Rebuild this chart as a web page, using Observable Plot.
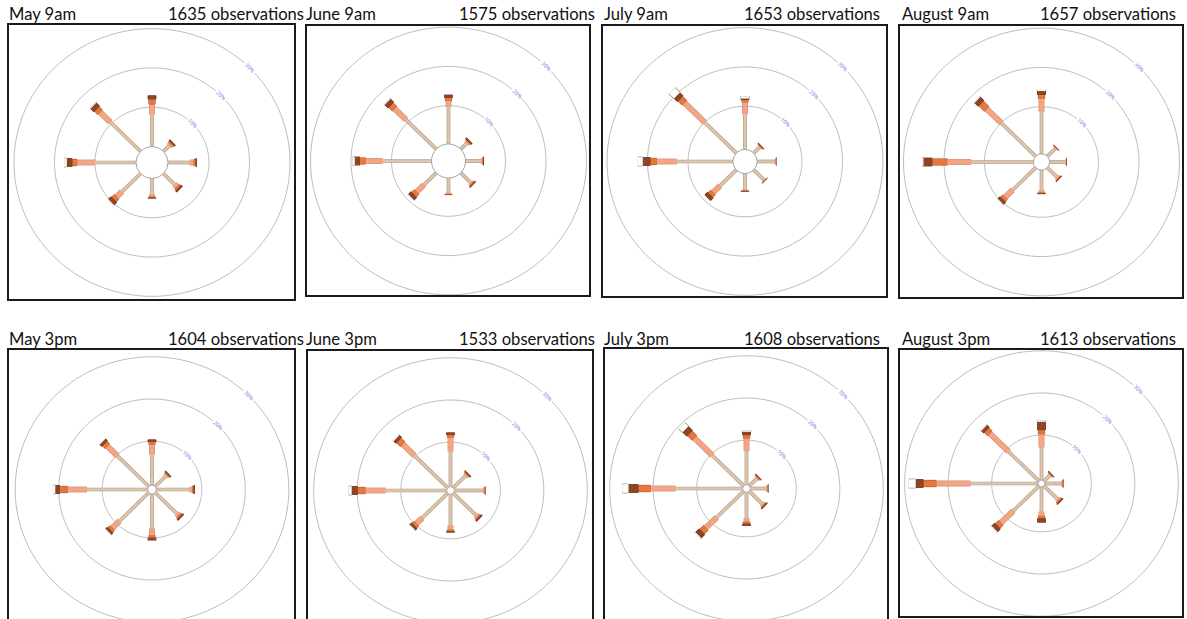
<!DOCTYPE html>
<html><head><meta charset="utf-8">
<script src="https://cdn.jsdelivr.net/npm/d3@7"></script>
<script src="https://cdn.jsdelivr.net/npm/@observablehq/plot@0.6"></script>
<style>
body{margin:0;background:#fff;font-family:Lato,"Open Sans",sans-serif;}
#root{position:relative;width:1187px;height:619px;overflow:hidden;background:#fff;}
.title{position:absolute;font-size:16.6px;color:#111;white-space:nowrap;line-height:1;}
.box{position:absolute;border:2px solid #1a1a1a;box-sizing:border-box;background:#fff;overflow:hidden;}
.box svg{display:block;}
</style></head><body><div id="root"></div>
<script>
// ---------- data ----------
const directions = ["N", "NE", "E", "SE", "S", "SW", "W", "NW"];
const directionAngles = [0, 45, 90, 135, 180, 225, 270, 315];
const speedClasses = ["1-10 km/h", "11-20 km/h", "21-30 km/h", "31-40 km/h", "above 40 km/h"];
const ringValues = [10, 20, 30];
const ringLabels = ["10%", "20%", "30%"];
const panelNames = ["May 9am", "June 9am", "July 9am", "August 9am", "May 3pm", "June 3pm", "July 3pm", "August 3pm"];
const observations = [1635, 1575, 1653, 1657, 1604, 1533, 1608, 1613];
const calm = [3.95, 4.2, 3.0, 2.0, 1.0, 0.9, 0.9, 0.8];

// percent of observations per direction (N..NW), split by speed class
const may9am = [[8.2,2.5,1.3,1.0,0],[1.8,0.6,0.4,0.4,0],[5.2,1.0,0.5,0.3,0],[3.8,0.8,0.5,0.5,0],[4.0,0.6,0.3,0.2,0],[6.4,1.8,1.0,1.0,0.1],[10.0,4.4,1.2,1.4,0.6],[10.5,3.5,1.2,1.2,0.2]];
const june9am = [[9.7,1.5,0.8,0.8,0],[2.2,0.4,0.3,0.4,0],[4.0,0.3,0.2,0.2,0],[3.6,0.4,0.2,0.3,0],[4.0,0.3,0.2,0.1,0],[4.5,2.5,1.0,1.0,0.1],[12.2,4.2,1.4,1.3,0.5],[10.8,3.9,1.3,1.2,0.2]];
const july9am = [[8.0,3.0,0.6,0.4,0.5],[1.0,0.2,0.2,0.2,0],[3.3,0.2,0.1,0.1,0],[2.5,0.2,0.1,0.1,0],[3.1,0.2,0.1,0.2,0],[4.7,2.3,1.0,1.0,0],[12.8,4.9,1.6,1.9,1.2],[10.0,7.0,1.5,1.2,1.7]];
const august9am = [[8.7,3.3,1.0,1.0,0.3],[0.7,0.2,0.2,0.1,0],[1.8,0.2,0.1,0.1,0],[1.4,0.3,0.2,0.2,0],[3.1,0.5,0.3,0.2,0],[6.0,2.6,0.8,0.8,0.1],[13.3,5.9,3.7,2.2,0.3],[10.0,5.0,2.0,1.3,0.2]];
const may3pm = [[6.9,2.3,0.6,0.6,0],[3.0,0.4,0.2,0.3,0],[7.2,0.6,0.3,0.3,0],[6.6,0.6,0.4,0.4,0],[7.8,1.6,0.6,0.6,0],[9.1,2.3,0.7,0.6,0.1],[13.5,4.4,1.8,1.1,0.5],[9.8,3.2,0.9,0.7,0.1]];
const june3pm = [[7.8,3.3,0.6,0.6,0],[3.4,0.4,0.2,0.3,0],[6.0,0.3,0.2,0.1,0],[6.8,0.5,0.3,0.4,0],[6.8,1.0,0.4,0.3,0],[7.7,1.9,0.7,0.6,0.1],[13.5,4.6,1.8,1.4,0.7],[10.3,3.7,1.3,0.8,0.2]];
const july3pm = [[7.4,3.0,0.8,0.8,0.3],[1.8,0.3,0.2,0.2,0],[3.0,0.3,0.2,0.1,0],[3.6,0.4,0.2,0.3,0],[5.6,0.8,0.5,0.5,0],[8.2,3.5,1.3,1.2,0.2],[14.9,5.7,2.8,2.3,1.4],[9.6,5.8,1.6,1.4,1.1]];
const august3pm = [[7.1,3.1,1.0,2.0,0.3],[1.2,0.2,0.2,0.2,0],[3.1,0.2,0.2,0.1,0],[3.7,0.4,0.3,0.3,0],[5.2,1.0,0.6,1.0,0],[7.7,4.0,1.1,1.0,0.2],[14.9,7.8,3.0,1.8,1.6],[9.2,6.1,1.1,0.8,0.2]];
const panelData = [may9am, june9am, july9am, august9am, may3pm, june3pm, july3pm, august3pm];

// ---------- styles / layout ----------
const classColors = ["#dcc6ae", "#f4a584", "#e5773f", "#8f4424", "#ffffff"];
const classOutline = ["#b39a84", "#cf9174", "#b85e34", "#6a3018", "#8a8a8a"];
const classWidths = [2.4, 4.6, 6, 7.5, 8.5];
const boxes = [[7,23,289,278],[305,24,286,273],[601,24,287,274],[898,24,286,275],
               [7,348,289,282],[306,349,288,282],[603,347,286,282],[898,348,286,270]];
const titleRows = [6, 331];
const nameLeft = [9, 306, 604, 902];
const obsRight = [304, 595, 880, 1176];
const hole = {"9am": 4.07, "3pm": 1.45};
const pxPerUnit = {"9am": 4.05, "3pm": 4.35};

const root = document.getElementById("root");
const toRad = d => d * Math.PI / 180;

panelNames.forEach((name, i) => {
  const row = i < 4 ? 0 : 1, col = i % 4;
  const t1 = document.createElement("div");
  t1.className = "title"; t1.textContent = name;
  t1.style.left = nameLeft[col] + "px"; t1.style.top = titleRows[row] + "px";
  root.appendChild(t1);
  const t2 = document.createElement("div");
  t2.className = "title"; t2.textContent = observations[i] + " observations";
  t2.style.right = (1187 - obsRight[col]) + "px"; t2.style.top = titleRows[row] + "px";
  root.appendChild(t2);

  const [bx, by, bw, bh] = boxes[i];
  const box = document.createElement("div");
  box.className = "box";
  Object.assign(box.style, {left: bx + "px", top: by + "px", width: bw + "px", height: bh + "px"});
  root.appendChild(box);
  const w = bw - 4, h = bh - 4;
  const tkey = row === 0 ? "9am" : "3pm";
  const off = hole[tkey], kx = pxPerUnit[tkey], ky = kx * 0.97;
  const hw = w / 2 / kx, hh = h / 2 / ky;

  const segs = [];
  panelData[i].forEach((arr, d) => {
    const a = toRad(directionAngles[d]);
    let cum = 0;
    arr.forEach((v, c) => {
      if (v <= 0) return;
      const r0 = c === 0 ? calm[i] : off + cum;
      cum += v;
      const r1 = off + cum;
      segs.push({dir: directions[d], cls: speedClasses[c], ci: c,
        x1: r0 * Math.sin(a), y1: r0 * Math.cos(a), x2: r1 * Math.sin(a), y2: r1 * Math.cos(a)});
    });
  });
  const ringPts = ringValues.flatMap(v => d3.range(0, 361, 2).map(deg => ({ring: v, x: (off + v) * Math.sin(toRad(deg)), y: (off + v) * Math.cos(toRad(deg))})));

  const marks = [
    Plot.line(ringPts, {x: "x", y: "y", z: "ring", stroke: "#bdbdbd", strokeWidth: 1}),
    Plot.text(ringValues, {x: v => (off + v) * Math.SQRT1_2, y: v => (off + v) * Math.SQRT1_2, text: (v, j) => ringLabels[j], rotate: 45, fontSize: 5.5, fill: "#8585e6", stroke: "white", strokeWidth: 4, paintOrder: "stroke"})
  ];
  speedClasses.forEach((c, ci) => {
    const sub = segs.filter(s => s.ci === ci);
    marks.push(Plot.link(sub, {x1: "x1", y1: "y1", x2: "x2", y2: "y2", stroke: classOutline[ci], strokeWidth: classWidths[ci] + 1.3, strokeLinecap: "butt"}));
    marks.push(Plot.link(sub, {x1: "x1", y1: "y1", x2: "x2", y2: "y2", stroke: classColors[ci], strokeWidth: classWidths[ci], strokeLinecap: "butt"}));
  });
  marks.push(Plot.dot([calm[i]], {x: () => 0, y: () => 0, r: calm[i] * kx, fill: "white", stroke: "#a5a5a5", strokeWidth: 1}));

  const svg = Plot.plot({
    width: w, height: h, margin: 0,
    x: {domain: [-hw, hw], axis: null},
    y: {domain: [-hh, hh], axis: null},
    style: {background: "white", overflow: "visible"},
    marks
  });
  box.appendChild(svg);
});
</script>
</body></html>
